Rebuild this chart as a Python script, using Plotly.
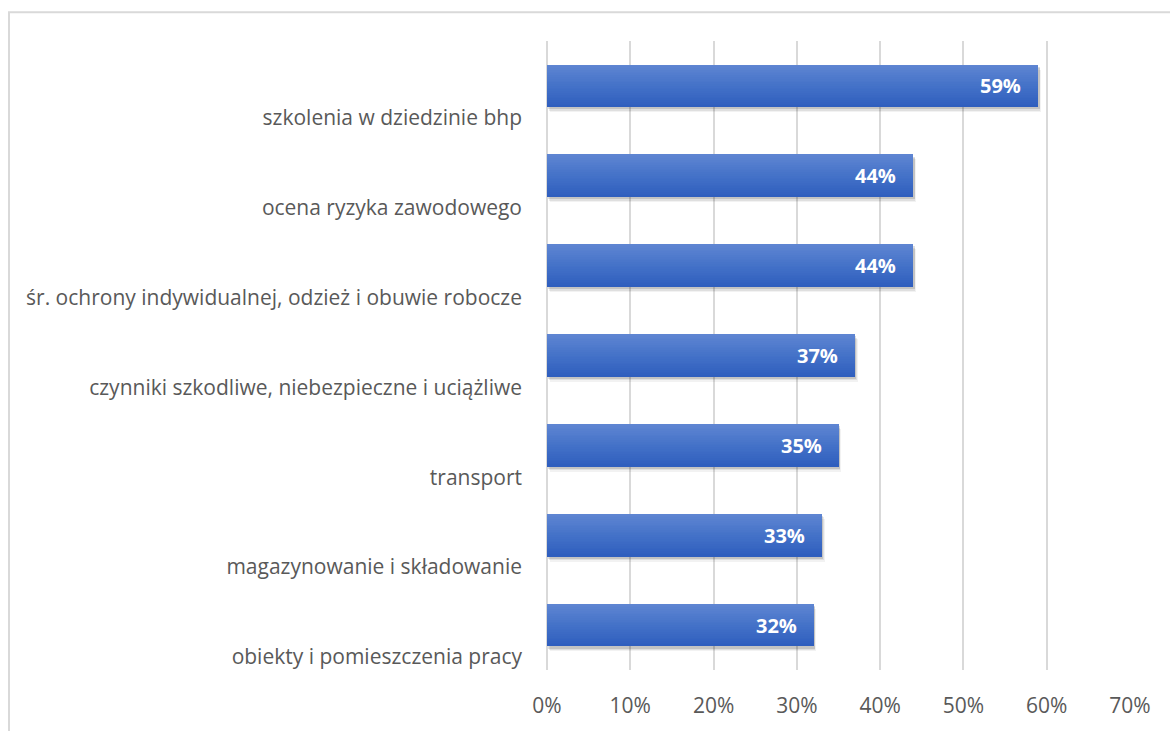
import plotly.graph_objects as go

# Categories (top to bottom) and their shares in percent
categories = [
    "szkolenia w dziedzinie bhp",
    "ocena ryzyka zawodowego",
    "śr. ochrony indywidualnej, odzież i obuwie robocze",
    "czynniki szkodliwe, niebezpieczne i uciążliwe",
    "transport",
    "magazynowanie i składowanie",
    "obiekty i pomieszczenia pracy",
]
values = [59, 44, 44, 37, 35, 33, 32]
x_ticks = [0, 10, 20, 30, 40, 50, 60, 70]
x_tick_labels = [f"{t}%" for t in x_ticks]

FONT = "Open Sans"
TEXT_GREY = "#595959"
GRID = "#d9d9d9"

pos = list(range(len(categories)))
BAR_W = 0.475          # bar thickness in category units
PX_Y = 635 / 7         # pixels per category unit
PX_X = 583 / 70        # pixels per percent

fig = go.Figure()

# soft drop shadow below/right of each bar
for dx, dy, alpha in [(4.5, 5.0, 0.05), (3.2, 3.6, 0.08), (2.0, 2.2, 0.12)]:
    fig.add_trace(go.Bar(
        y=pos, x=values, base=dx / PX_X * 0.6, orientation="h",
        width=BAR_W, offset=-BAR_W / 2 + dy / PX_Y,
        marker=dict(color=f"rgba(0,0,0,{alpha})", line=dict(width=0)),
        hoverinfo="skip", showlegend=False,
    ))

# vertical gradient fill built from thin strips
top = (94, 133, 210)
mid = (68, 114, 200)
bot = (47, 94, 190)


def lerp(a, b, t):
    return tuple(round(a[i] + (b[i] - a[i]) * t) for i in range(3))


N = 24
strip = BAR_W / N
for k in range(N):
    t = k / (N - 1)
    c = lerp(top, mid, t * 2) if t < 0.5 else lerp(mid, bot, (t - 0.5) * 2)
    w = strip * 1.6 if k < N - 1 else strip
    fig.add_trace(go.Bar(
        y=pos, x=values, orientation="h",
        width=w, offset=-BAR_W / 2 + k * strip,
        marker=dict(color=f"rgb{c}", line=dict(width=0)),
        hoverinfo="skip", showlegend=False,
    ))

# value labels inside the bar ends
for p, v in zip(pos, values):
    fig.add_annotation(
        x=v, y=p, xref="x", yref="y", text=f"<b>{v}%</b>",
        showarrow=False, xanchor="right", yanchor="middle", xshift=-15,
        font=dict(family=FONT, size=20, color="white"),
    )

# light frame around the chart
fig.add_shape(
    type="rect", xref="paper", yref="paper",
    x0=(9 - 547) / 583, x1=1.2, y0=-0.3, y1=(676 - 12) / 635,
    line=dict(color=GRID, width=2), fillcolor="rgba(0,0,0,0)", layer="below",
)

fig.update_layout(
    width=1170, height=731,
    margin=dict(l=547, r=40, t=41, b=55),
    paper_bgcolor="white", plot_bgcolor="white",
    barmode="overlay", bargap=0,
    font=dict(family=FONT, size=21, color=TEXT_GREY),
    xaxis=dict(
        range=[0, 70], tickvals=x_ticks, ticktext=x_tick_labels,
        showgrid=True, gridcolor=GRID, gridwidth=1.5,
        zeroline=True, zerolinecolor=GRID, zerolinewidth=1.5,
        showline=False, ticks="", ticklabelstandoff=21,
        tickfont=dict(family=FONT, size=21, color=TEXT_GREY),
        fixedrange=True,
    ),
    yaxis=dict(
        range=[len(categories) - 0.5, -0.5],
        tickvals=[p + 0.355 for p in pos], ticktext=categories,
        showgrid=False, zeroline=False, showline=False, ticks="",
        ticklabelstandoff=24,
        tickfont=dict(family=FONT, size=21, color=TEXT_GREY),
        fixedrange=True,
    ),
)

fig.write_html("out.html")
